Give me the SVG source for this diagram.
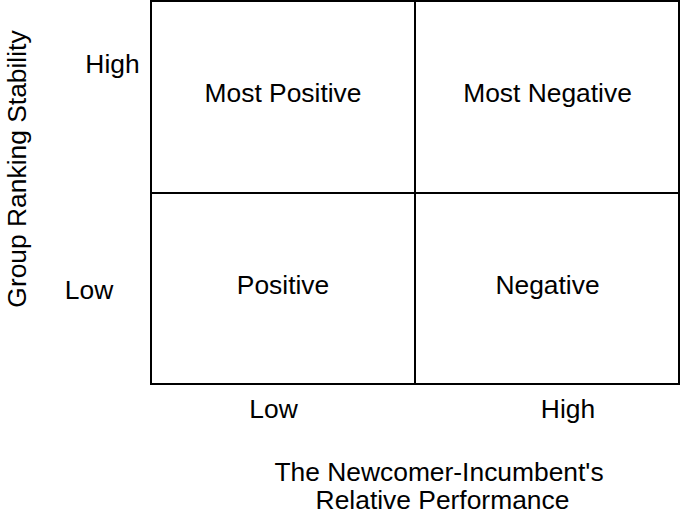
<svg xmlns="http://www.w3.org/2000/svg" width="680" height="517" viewBox="0 0 680 517">
<style>
text{font-family:"Liberation Sans",Arial,sans-serif;font-size:26.4px;fill:#000}
.c{text-anchor:middle}
.cell{fill:#fff;stroke:#000;stroke-width:2}
</style>
<rect width="680" height="517" fill="#fff"/>
<g id="q-most-positive"><rect class="cell" x="151" y="1" width="264" height="192"/><text class="c" x="283" y="102">Most Positive</text></g>
<g id="q-most-negative"><rect class="cell" x="415" y="1" width="264" height="192"/><text class="c" x="547.5" y="102">Most Negative</text></g>
<g id="q-positive"><rect class="cell" x="151" y="193" width="264" height="191"/><text class="c" x="283" y="294">Positive</text></g>
<g id="q-negative"><rect class="cell" x="415" y="193" width="264" height="191"/><text class="c" x="547.5" y="294">Negative</text></g>
<g id="connectors"></g>
<g id="y-axis">
<text class="c" x="0" y="0" transform="translate(26,169) rotate(-90)">Group Ranking Stability</text>
<text class="c" x="112.5" y="73">High</text>
<text class="c" x="89" y="299">Low</text>
</g>
<g id="x-axis">
<text class="c" x="273.5" y="418">Low</text>
<text class="c" x="568" y="418">High</text>
<text class="c" x="439" y="481">The Newcomer-Incumbent's</text>
<text class="c" x="442.5" y="509">Relative Performance</text>
</g>
</svg>
